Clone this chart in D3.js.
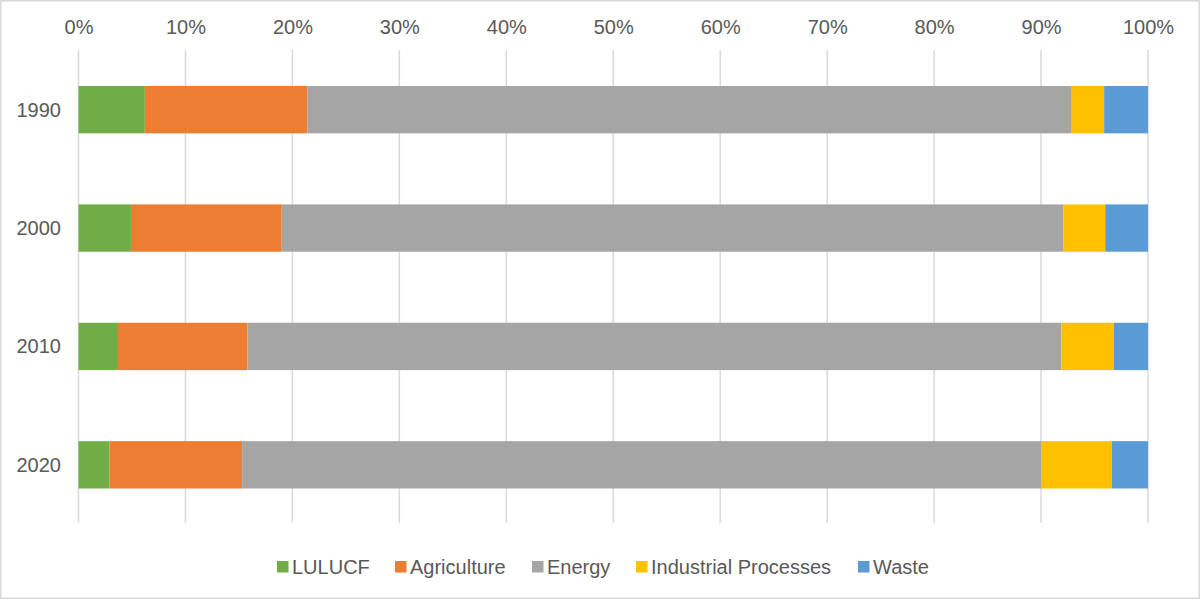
<!DOCTYPE html>
<html><head><meta charset="utf-8">
<script src="https://cdn.jsdelivr.net/npm/d3@7"></script>
<style>html,body{margin:0;padding:0;background:#fff;}svg{display:block;}</style>
</head><body>
<svg id="chart" width="1200" height="599"></svg>
<script>
const years = ["1990", "2000", "2010", "2020"];
const seriesNames = ["LULUCF", "Agriculture", "Energy", "Industrial Processes", "Waste"];
const lulucf = [6.2, 4.9, 3.6, 2.9];
const agriculture = [15.2, 14.1, 12.2, 12.4];
const energy = [71.4, 73.1, 76.1, 74.7];
const industrial = [3.1, 3.9, 4.9, 6.6];
const waste = [4.1, 4.0, 3.2, 3.4];
const colors = ["#70AD47", "#ED7D31", "#A5A5A5", "#FFC000", "#5B9BD5"];
const tickValues = [0, 0.1, 0.2, 0.3, 0.4, 0.5, 0.6, 0.7, 0.8, 0.9, 1.0];

const seriesValues = [lulucf, agriculture, energy, industrial, waste];
const table = years.map((y, i) => {
  const row = {year: y};
  seriesNames.forEach((s, j) => row[s] = seriesValues[j][i]);
  return row;
});
const stack = d3.stack().keys(seriesNames).offset(d3.stackOffsetExpand)(table);

const svg = d3.select("#chart");
const font = "'Liberation Sans', Arial, sans-serif";
const textColor = "#595959";
const fs = 20;

// frame
svg.append("rect").attr("x", 0.75).attr("y", 0.75).attr("width", 1198.5).attr("height", 597.5)
  .attr("fill", "#fff").attr("stroke", "#d9d9d9").attr("stroke-width", 1.5);

const x = d3.scaleLinear().domain([0, 1]).range([78.5, 1148]);
const y = d3.scaleBand().domain(years).range([50.5, 524]).paddingInner(0.6).paddingOuter(0.3);

// gridlines
svg.append("g").selectAll("line").data(tickValues).join("line")
  .attr("x1", d => x(d)).attr("x2", d => x(d))
  .attr("y1", 50).attr("y2", 523)
  .attr("stroke", "#d9d9d9").attr("stroke-width", 1.5);

// top axis labels
const xAxis = d3.axisTop(x).tickValues(tickValues).tickFormat(d3.format(".0%")).tickSize(0).tickPadding(0);
const gx = svg.append("g").attr("transform", "translate(0,33.5)").call(xAxis);
gx.select(".domain").remove();
gx.selectAll("text").attr("font-family", font).attr("font-size", fs).attr("fill", textColor).attr("dy", 0);

// y axis labels
const yAxis = d3.axisLeft(y).tickSize(0).tickPadding(0);
const gy = svg.append("g").attr("transform", "translate(61,0)").call(yAxis);
gy.select(".domain").remove();
gy.selectAll("text").attr("font-family", font).attr("font-size", fs).attr("fill", textColor).attr("dy", "0.35em");

// bars
svg.append("g").selectAll("g").data(stack).join("g")
  .attr("fill", (d, i) => colors[i])
  .selectAll("rect").data(d => d).join("rect")
  .attr("x", d => x(d[0]))
  .attr("width", d => x(d[1]) - x(d[0]))
  .attr("y", d => y(d.data.year))
  .attr("height", y.bandwidth());

// legend
const legendX = [277, 395, 532, 636, 858];
const lg = svg.append("g");
seriesNames.forEach((s, i) => {
  const g = lg.append("g").attr("transform", `translate(${legendX[i]},567)`);
  g.append("rect").attr("x", 0).attr("y", -6).attr("width", 11.5).attr("height", 11.5).attr("fill", colors[i]);
  g.append("text").attr("x", 15).attr("y", 0).attr("dy", "0.35em")
    .attr("font-family", font).attr("font-size", fs).attr("fill", textColor).text(s);
});
</script>
</body></html>
